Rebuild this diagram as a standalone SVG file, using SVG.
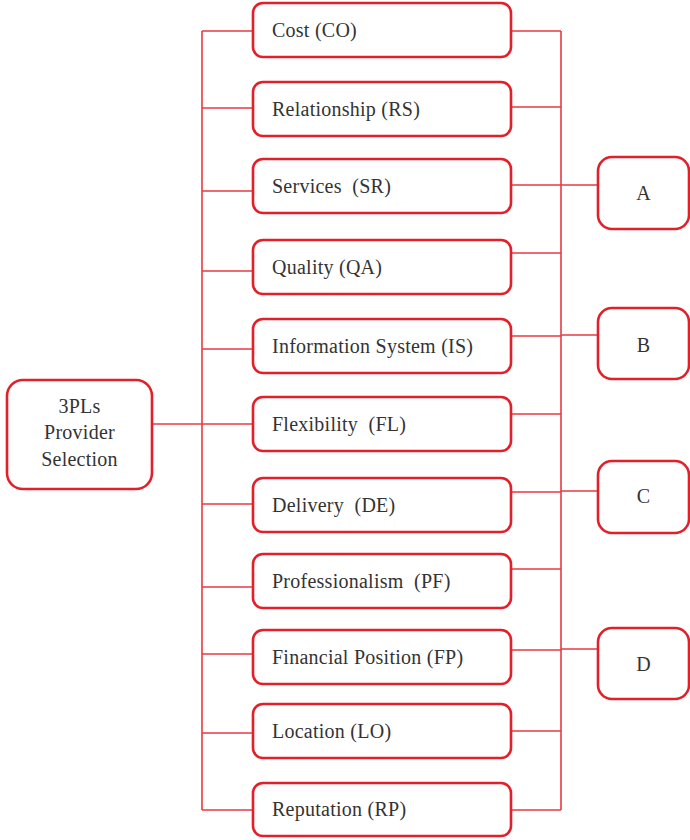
<svg xmlns="http://www.w3.org/2000/svg" width="690" height="840" viewBox="0 0 690 840">
<style>
.box{fill:#fff;stroke:#e3202a;stroke-width:2.6}
.ln{stroke:#e63b42;stroke-width:1.6;fill:none}
.t{font-family:"Liberation Serif",serif;font-size:20px;letter-spacing:0.25px;fill:#333;white-space:pre}
.c{text-anchor:middle}
</style>
<rect width="690" height="840" fill="#fff"/>
<g id="connectors" class="ln">
<path d="M202 31V810M561 31V810"/>
<path d="M152 424H253"/>
<path d="M202 31H253M202 108H253M202 191H253M202 271H253M202 349H253M202 504H253M202 587H253M202 654H253M202 733H253M202 810H253"/>
<path d="M511 31H561M511 107H561M511 185H561M511 253H561M511 336H561M511 414H561M511 492H561M511 569H561M511 650H561M511 731H561M511 810H561"/>
<path d="M561 185H598M561 335H598M561 491H598M561 649H598"/>
</g>
<g id="root"><rect class="box" x="7" y="380" width="145" height="109" rx="16"/>
<text class="t c" x="79.5" y="413">3PLs</text><text class="t c" x="79.5" y="439">Provider</text><text class="t c" x="79.5" y="466">Selection</text></g>
<g id="CO"><rect class="box" x="253" y="3" width="258" height="54" rx="10"/><text class="t" x="272" y="36.5">Cost (CO)</text></g>
<g id="RS"><rect class="box" x="253" y="82" width="258" height="54" rx="10"/><text class="t" x="272" y="115.5">Relationship (RS)</text></g>
<g id="SR"><rect class="box" x="253" y="159" width="258" height="54" rx="10"/><text class="t" x="272" y="192.5">Services  (SR)</text></g>
<g id="QA"><rect class="box" x="253" y="240" width="258" height="54" rx="10"/><text class="t" x="272" y="273.5">Quality (QA)</text></g>
<g id="IS"><rect class="box" x="253" y="319" width="258" height="54" rx="10"/><text class="t" x="272" y="352.5">Information System (IS)</text></g>
<g id="FL"><rect class="box" x="253" y="397" width="258" height="54" rx="10"/><text class="t" x="272" y="430.5">Flexibility  (FL)</text></g>
<g id="DE"><rect class="box" x="253" y="478" width="258" height="54" rx="10"/><text class="t" x="272" y="511.5">Delivery  (DE)</text></g>
<g id="PF"><rect class="box" x="253" y="554" width="258" height="54" rx="10"/><text class="t" x="272" y="587.5">Professionalism  (PF)</text></g>
<g id="FP"><rect class="box" x="253" y="630" width="258" height="54" rx="10"/><text class="t" x="272" y="663.5">Financial Position (FP)</text></g>
<g id="LO"><rect class="box" x="253" y="704" width="258" height="54" rx="10"/><text class="t" x="272" y="737.5">Location (LO)</text></g>
<g id="RP"><rect class="box" x="253" y="783" width="258" height="53" rx="10"/><text class="t" x="272" y="815.5">Reputation (RP)</text></g>
<g id="A"><rect class="box" x="598" y="157" width="91" height="72" rx="14"/><text class="t c" x="643.5" y="200">A</text></g>
<g id="B"><rect class="box" x="598" y="308" width="91" height="71" rx="14"/><text class="t c" x="643.5" y="352">B</text></g>
<g id="C"><rect class="box" x="598" y="461" width="91" height="72" rx="14"/><text class="t c" x="643.5" y="503">C</text></g>
<g id="D"><rect class="box" x="598" y="628" width="91" height="71" rx="14"/><text class="t c" x="643.5" y="671">D</text></g>
</svg>
